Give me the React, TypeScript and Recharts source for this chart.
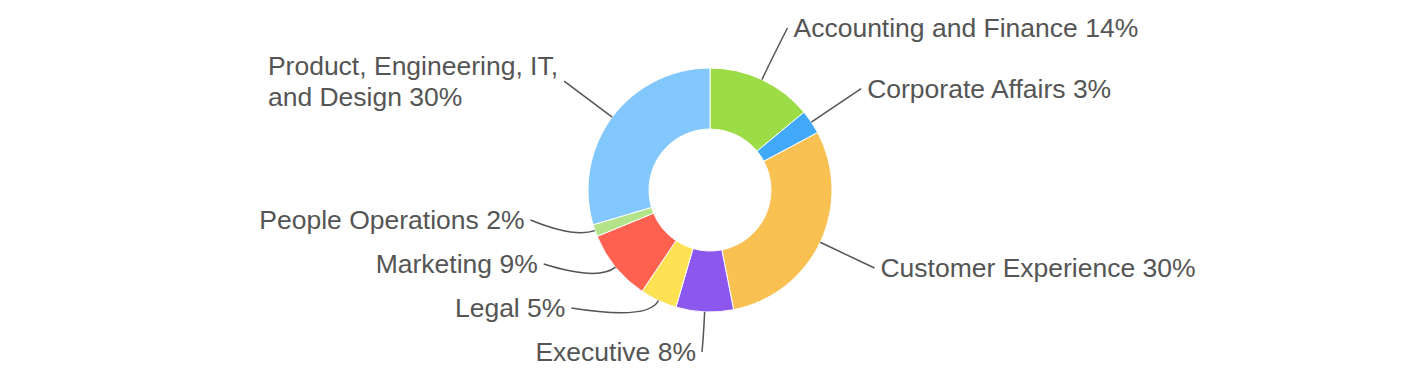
import { PieChart, Pie, Cell } from 'recharts';

const departments = [
  'Accounting and Finance',
  'Corporate Affairs',
  'Customer Experience',
  'Executive',
  'Legal',
  'Marketing',
  'People Operations',
  'Product, Engineering, IT, and Design',
];
const shares = [14, 3.2, 29.7, 7.6, 4.9, 9.4, 1.6, 29.6];
const colors = ['#9cdc46', '#42a9f8', '#f9c152', '#8b57ed', '#fee253', '#ff6150', '#b5e38a', '#82c8fd'];

const data = departments.map((name, i) => ({ name, value: shares[i] }));

const CX = 710;
const CY = 190;
const OUTER = 122;
const INNER = 61;
const LABEL_R = 182;
const GAP = 44;
const TOP = 28;
const BOTTOM = 352;
const FONT_SIZE = 26.5;
const LINE_H = 31;
const WRAP_LEFT = 320;
const WRAP_RIGHT = 420;
const FONT = '"Liberation Sans", Arial, sans-serif';
const TEXT_COLOR = '#555555';

const measure = (() => {
  const ctx = document.createElement('canvas').getContext('2d');
  return (s: string) => {
    if (!ctx) return s.length * FONT_SIZE * 0.52;
    ctx.font = `${FONT_SIZE}px ${FONT}`;
    return ctx.measureText(s).width;
  };
})();

const wrapText = (s: string, max: number) => {
  const words = s.split(' ');
  const lines: string[] = [];
  let cur = '';
  words.forEach((w) => {
    const next = cur ? `${cur} ${w}` : w;
    if (cur && measure(next) > max) {
      lines.push(cur);
      cur = w;
    } else cur = next;
  });
  if (cur) lines.push(cur);
  return lines;
};

const rad = (d: number) => (d * Math.PI) / 180;

// label positions: natural spot on a ring, then pushed apart per side
const layoutLabels = () => {
  const total = shares.reduce((a, b) => a + b, 0);
  let acc = 0;
  const items = shares.map((v, i) => {
    const start = (acc / total) * 360;
    acc += v;
    const end = (acc / total) * 360;
    const mid = (start + end) / 2;
    return {
      i,
      mid,
      left: mid >= 180,
      nx: CX + LABEL_R * Math.sin(rad(mid)),
      ny: CY - LABEL_R * Math.cos(rad(mid)),
      x: 0,
      y: 0,
    };
  });
  const circleX = (y: number, left: boolean) => {
    const dy = Math.min(Math.abs(y - CY), LABEL_R);
    const dx = Math.sqrt(LABEL_R * LABEL_R - dy * dy);
    return left ? CX - dx : CX + dx;
  };
  const leftSide = items.filter((d) => d.left).sort((a, b) => b.ny - a.ny);
  let prev = Infinity;
  leftSide.forEach((d) => {
    const base = Math.min(d.ny, BOTTOM);
    d.y = Math.min(base, prev - GAP);
    d.x = d.y < base - 0.5 ? circleX(d.y, true) : d.nx;
    prev = d.y;
  });
  const rightSide = items.filter((d) => !d.left).sort((a, b) => a.ny - b.ny);
  prev = -Infinity;
  rightSide.forEach((d) => {
    const base = Math.max(d.ny, TOP);
    d.y = Math.max(base, prev + GAP);
    d.x = d.y > base + 0.5 ? circleX(d.y, false) : d.nx;
    prev = d.y;
  });
  return items;
};

const labelSpots = layoutLabels();

// eslint-disable-next-line @typescript-eslint/no-explicit-any
const renderLabel = (props: any) => {
  const { index, name, percent } = props;
  const spot = labelSpots[index];
  const a = rad(spot.mid);
  const ex = CX + OUTER * Math.sin(a);
  const ey = CY - OUTER * Math.cos(a);
  const qx = CX + (OUTER + 22) * Math.sin(a);
  const qy = CY - (OUTER + 22) * Math.cos(a);
  const lines = wrapText(`${name} ${Math.round(percent * 100)}%`, spot.left ? WRAP_LEFT : WRAP_RIGHT);
  const widest = Math.max(...lines.map(measure));
  const tx = spot.left ? spot.x - 6 - widest : spot.x + 6;
  const firstBase = spot.y + 9 - ((lines.length - 1) * LINE_H) / 2;
  return (
    <g key={`lbl-${index}`}>
      <path
        d={`M${ex},${ey} Q${qx},${qy} ${spot.x},${spot.y}`}
        fill="none"
        stroke="#555555"
        strokeWidth={1.5}
      />
      <text x={tx} y={firstBase} fill={TEXT_COLOR} fontSize={FONT_SIZE} fontFamily={FONT} textAnchor="start">
        {lines.map((l, k) => (
          <tspan key={k} x={tx} y={firstBase + k * LINE_H}>
            {l}
          </tspan>
        ))}
      </text>
    </g>
  );
};

export default function App() {
  return (
    <div style={{ position: 'fixed', left: 0, top: 0, width: 1420, height: 380, background: '#fff' }}>
      <PieChart width={1420} height={380} margin={{ top: 0, right: 0, bottom: 0, left: 0 }}>
        <Pie
          data={data}
          dataKey="value"
          nameKey="name"
          cx={CX}
          cy={CY}
          innerRadius={INNER}
          outerRadius={OUTER}
          startAngle={90}
          endAngle={-270}
          stroke="#ffffff"
          strokeWidth={1}
          label={renderLabel}
          labelLine={false}
          isAnimationActive={false}
        >
          {data.map((d, i) => (
            <Cell key={d.name} fill={colors[i]} />
          ))}
        </Pie>
      </PieChart>
    </div>
  );
}
